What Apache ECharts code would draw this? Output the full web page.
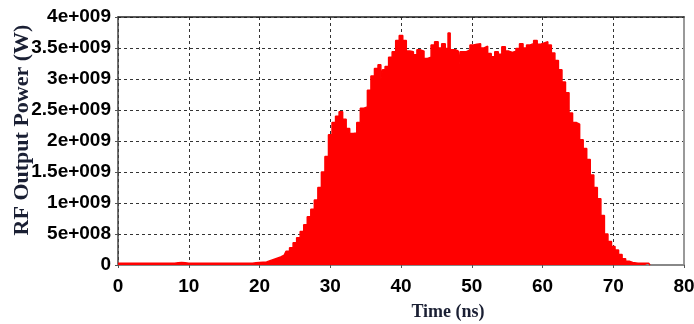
<!DOCTYPE html>
<html>
<head>
<meta charset="utf-8">
<script src="https://cdn.jsdelivr.net/npm/echarts@6/dist/echarts.min.js"></script>
<style>html,body{margin:0;padding:0;background:#fff;}#c{width:694px;height:324px;}</style>
</head>
<body>
<div id="c"></div>
<script>
// Time (ns)
const timeNs = [
  0, 1, 2, 3, 4, 5, 6, 7, 8, 8.5, 9, 9.5, 10, 11, 12, 13, 14, 15, 16, 17, 18, 19, 19.5,
  20, 20.5, 21, 21.5, 22, 22.5, 23, 23.5, 24, 24.5, 25, 25.5, 26, 26.5, 27, 27.5, 28, 28.5, 29, 29.5,
  30, 30.5, 31, 31.5, 32, 32.5, 33, 33.5, 34, 34.5, 35, 35.5, 36, 36.5, 37, 37.3, 37.5, 38, 38.5, 39, 39.5,
  40, 40.5, 41, 41.5, 42, 42.5, 43, 43.5, 44, 44.5, 45, 45.5, 46, 46.5, 46.8, 47.1, 47.5, 48, 48.2, 48.5, 49, 49.5,
  50, 50.5, 51, 51.5, 52, 52.5, 53, 53.5, 54, 54.5, 55, 55.5, 56, 56.5, 57, 57.5, 58, 58.5, 59, 59.5,
  60, 60.5, 61, 61.5, 62, 62.5, 63, 63.5, 64, 64.5, 65, 65.5, 66, 66.5, 67, 67.5, 68, 68.5, 69, 69.5,
  70, 70.5, 71, 71.5, 72, 72.5, 73, 74, 75, 75.2
];
// RF output power (W)
const powerW = [
  3.0e7, 3.0e7, 3.0e7, 3.0e7, 3.0e7, 3.0e7, 3.0e7, 3.0e7, 3.0e7, 3.5e7, 4.0e7, 3.5e7, 3.0e7, 3.0e7, 3.0e7, 3.0e7, 3.0e7, 3.0e7, 3.0e7, 3.0e7, 3.0e7, 3.0e7, 3.5e7,
  4.0e7, 4.5e7, 5.0e7, 7.0e7, 9.0e7, 1.1e8, 1.3e8, 1.6e8, 2.2e8, 2.8e8, 3.6e8, 4.4e8, 5.4e8, 6.5e8, 7.8e8, 9.0e8, 1.05e9, 1.25e9, 1.5e9, 1.75e9,
  2.1e9, 2.3e9, 2.4e9, 2.47e9, 2.35e9, 2.2e9, 2.12e9, 2.13e9, 2.3e9, 2.53e9, 2.55e9, 2.82e9, 3.05e9, 3.17e9, 3.23e9, 3.0e9, 3.15e9, 3.2e9, 3.35e9, 3.44e9, 3.62e9,
  3.7e9, 3.62e9, 3.45e9, 3.44e9, 3.39e9, 3.47e9, 3.45e9, 3.33e9, 3.35e9, 3.55e9, 3.6e9, 3.5e9, 3.57e9, 3.49e9, 3.74e9, 3.47e9, 3.47e9, 3.45e9, 3.1e9, 3.44e9, 3.44e9, 3.47e9,
  3.55e9, 3.56e9, 3.57e9, 3.5e9, 3.53e9, 3.41e9, 3.36e9, 3.44e9, 3.4e9, 3.52e9, 3.45e9, 3.43e9, 3.45e9, 3.49e9, 3.57e9, 3.5e9, 3.55e9, 3.57e9, 3.62e9, 3.56e9,
  3.58e9, 3.6e9, 3.55e9, 3.42e9, 3.3e9, 3.15e9, 2.95e9, 2.78e9, 2.45e9, 2.3e9, 2.27e9, 2.02e9, 1.88e9, 1.7e9, 1.45e9, 1.25e9, 1.07e9, 8.0e8, 5.0e8, 3.8e8,
  3.0e8, 2.4e8, 1.7e8, 1.0e8, 6.0e7, 4.0e7, 3.0e7, 3.0e7, 3.0e7, 0
];
// Tick labels
const yTickLabels = ['0', '5e+008', '1e+009', '1.5e+009', '2e+009', '2.5e+009', '3e+009', '3.5e+009', '4e+009'];
const xTickLabels = ['0', '10', '20', '30', '40', '50', '60', '70', '80'];

const seriesData = timeNs.map((t, i) => [t, powerW[i]]);
const chart = echarts.init(document.getElementById('c'), null, {renderer: 'canvas'});
const tickFont = {fontFamily: 'Liberation Sans', fontWeight: 'bold', fontSize: 19, color: '#000'};
chart.setOption({
  animation: false,
  grid: {left: 118, right: 10, top: 17, bottom: 59, containLabel: false, outerBoundsMode: 'none'},
  xAxis: [{
    type: 'value', min: 0, max: 80, interval: 10,
    axisLine: {show: true, onZero: false, lineStyle: {color: '#888', width: 2}},
    axisTick: {show: true, length: 3, lineStyle: {color: '#555'}},
    axisLabel: Object.assign({margin: 12, formatter: v => xTickLabels[Math.round(v / 10)]}, tickFont),
    splitLine: {show: true, lineStyle: {type: [3, 3], color: '#333', width: 1}},
    name: 'Time (ns)', nameLocation: 'middle', nameGap: 38, nameMoveOverlap: false,
    nameTextStyle: {fontFamily: 'Liberation Serif', fontWeight: 'bold', fontSize: 18, color: '#1a1f33', padding: [0, 0, 0, 94]}
  }, {
    type: 'value', min: 0, max: 80, position: 'top',
    axisLine: {show: true, onZero: false, lineStyle: {color: '#222', width: 1.5}},
    axisTick: {show: false}, axisLabel: {show: false}, splitLine: {show: false}
  }],
  yAxis: [{
    type: 'value', min: 0, max: 4e9, interval: 5e8,
    axisLine: {show: true, onZero: false, lineStyle: {color: '#444', width: 1.5}},
    axisTick: {show: true, length: 3, lineStyle: {color: '#555'}},
    axisLabel: Object.assign({margin: 7, formatter: v => yTickLabels[Math.round(v / 5e8)]}, tickFont),
    splitLine: {show: true, lineStyle: {type: [3, 3], color: '#333', width: 1}},
    name: 'RF Output Power (W)', nameLocation: 'middle', nameGap: 85, nameRotate: 90, nameMoveOverlap: false,
    nameTextStyle: {fontFamily: 'Liberation Serif', fontWeight: 'bold', fontSize: 22, color: '#1a1f33', padding: [0, 0, 0, 22]}
  }, {
    type: 'value', min: 0, max: 4e9, position: 'right',
    axisLine: {show: true, onZero: false, lineStyle: {color: '#999', width: 2}},
    axisTick: {show: false}, axisLabel: {show: false}, splitLine: {show: false}
  }],
  series: [{
    type: 'line', xAxisIndex: 0, yAxisIndex: 0,
    data: seriesData, step: 'middle', symbol: 'none',
    lineStyle: {color: '#ff0000', width: 1.5},
    areaStyle: {color: '#ff0000', opacity: 1}
  }]
});
</script>
</body>
</html>
